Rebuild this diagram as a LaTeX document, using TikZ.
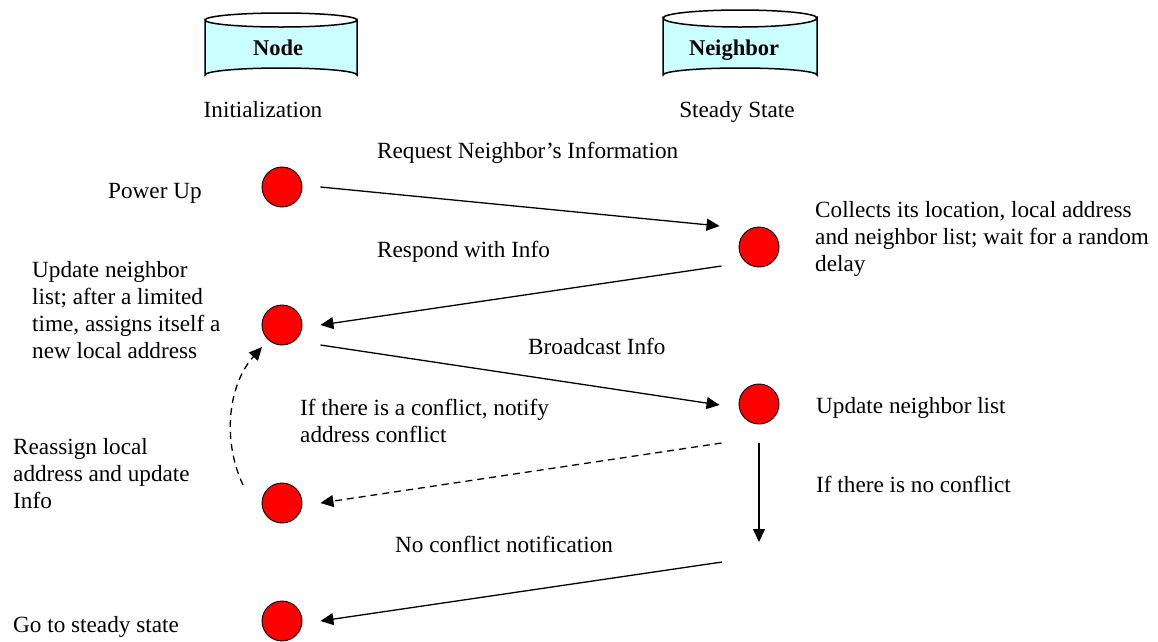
\documentclass[tikz,border=0pt]{standalone}
\usepackage{fontspec}
\setmainfont{Liberation Serif}
\usetikzlibrary{arrows.meta,calc}
\definecolor{dbcyan}{HTML}{CCFFFF}
\begin{document}
\begin{tikzpicture}[x=1pt,y=-1pt,
  lbl/.style={anchor=base west,inner sep=0pt,font=\fontsize{23.2}{27}\selectfont},
  ctr/.style={anchor=base,inner sep=0pt,font=\fontsize{23.2}{27}\selectfont},
  dbtitle/.style={anchor=base,inner sep=0pt,font=\fontsize{22.5}{27}\selectfont\bfseries},
  state/.style={circle,draw=black,line width=0.9pt,fill=red,minimum size=40pt,inner sep=0pt},
  dbshape/.style={draw=black,line width=1.5pt,fill=dbcyan},
  msg/.style={line width=1.3pt,-{Triangle[length=13pt,width=12pt]}},
  msgdash/.style={msg,dash pattern=on 7pt off 5pt},
]
\useasboundingbox (0,0) rectangle (1158,641);
\fill[white] (0,0) rectangle (1158,641);

% database cylinders
\path[dbshape] (205,20) -- (205,75) arc[start angle=180,end angle=360,x radius=76,y radius=7]
  -- (357,20) arc[start angle=0,end angle=180,x radius=76,y radius=7] -- cycle;
\draw[line width=1.5pt] (205,20) arc[start angle=180,end angle=360,x radius=76,y radius=7];
\path[dbshape] (663,18) -- (663,75) arc[start angle=180,end angle=360,x radius=77,y radius=7]
  -- (817,18) arc[start angle=0,end angle=180,x radius=77,y radius=9] -- cycle;
\draw[line width=1.5pt] (663,18) arc[start angle=180,end angle=360,x radius=77,y radius=8];
\node[dbtitle] (nodedb) at (278,55) {Node};
\node[dbtitle] (neighdb) at (734,55) {Neighbor};
\node[ctr] (init) at (263,117) {Initialization};
\node[ctr] (steady) at (737,117) {Steady State};

% states on the node side
\node[state] (pu)  at (282,187) {};
\node[state] (upd) at (282,325) {};
\node[state] (rea) at (282,503) {};
\node[state] (go)  at (282,621) {};
% states on the neighbor side
\node[state] (col) at (759,247) {};
\node[state] (unl) at (759,404) {};
\coordinate (nc) at (759,542);

% messages
\draw[msg] ($(pu.east)+(18,0)$) -- ($(col.west)+(-19,-21)$);
\draw[msg] ($(col.west)+(-17,19)$) -- ($(upd.east)+(18,0)$);
\draw[msg] ($(upd.east)+(18,20)$) -- ($(unl.west)+(-19,1)$);
\draw[msgdash] ($(unl.west)+(-17,39)$) -- ($(rea.east)+(18,0)$);
\draw[msg] ($(unl.south)+(0,19)$) -- (nc);
\draw[msg] ($(nc)+(-37,20)$) -- ($(go.east)+(18,0)$);
\draw[msgdash] ($(rea)+(-39,-18)$) .. controls (222,440) and (228,385) .. ($(upd)+(-20,22)$);

% labels
\node[lbl] (lpu) at (108,198) {Power Up};
\node[lbl] (lupd) at (32,277) {\begin{tabular}[t]{@{}l@{}}Update neighbor\\ list; after a limited\\ time, assigns itself a\\ new local address\end{tabular}};
\node[lbl] (lrea) at (13,454) {\begin{tabular}[t]{@{}l@{}}Reassign local\\ address and update\\ Info\end{tabular}};
\node[lbl] (lgo) at (13,632) {Go to steady state};
\node[lbl] (lcol) at (815,217) {\begin{tabular}[t]{@{}l@{}}Collects its location, local address\\ and neighbor list; wait for a random\\ delay\end{tabular}};
\node[lbl] (lunl) at (816,413) {Update neighbor list};
\node[lbl] (lnoc) at (816,492) {If there is no conflict};
\node[lbl] (mreq) at (377,158) {Request Neighbor’s Information};
\node[lbl] (mresp) at (377,257) {Respond with Info};
\node[lbl] (mbc) at (528,354) {Broadcast Info};
\node[lbl] (mconf) at (300,415) {\begin{tabular}[t]{@{}l@{}}If there is a conflict, notify\\ address conflict\end{tabular}};
\node[lbl] (mnoc) at (395,552) {No conflict notification};
\end{tikzpicture}
\end{document}
